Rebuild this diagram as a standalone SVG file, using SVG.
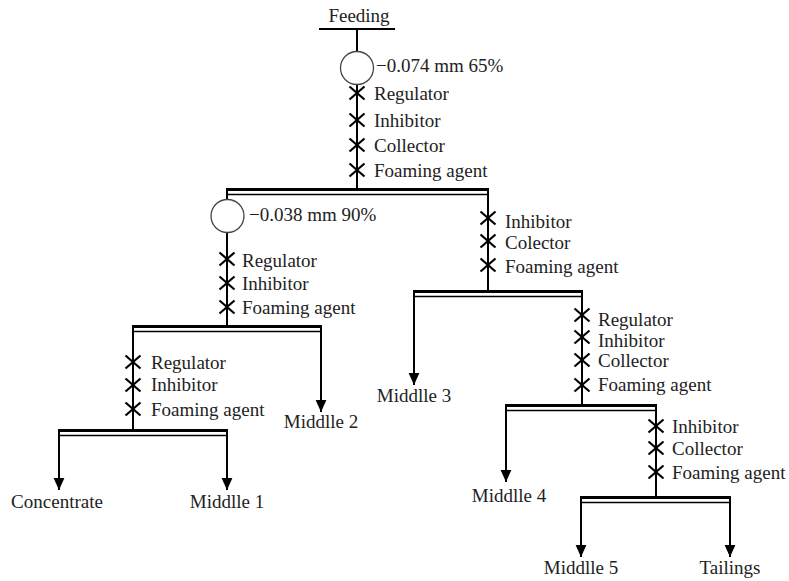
<svg xmlns="http://www.w3.org/2000/svg" width="789" height="581" viewBox="0 0 789 581">
<style>
text{font-family:'Liberation Serif','DejaVu Serif','Times New Roman',serif;font-size:19px;fill:#222}
.m{text-anchor:middle}
.ln{stroke:#000;stroke-width:2;fill:none}
.bar1{stroke:#000;stroke-width:3}
.bar2{stroke:#000;stroke-width:1.5}
.x{stroke:#000;stroke-width:2.2}
.cy{fill:#fff;stroke:#444;stroke-width:1.3}
</style>
<defs>
<marker id="arr" markerUnits="userSpaceOnUse" markerWidth="12" markerHeight="12" viewBox="0 0 10 10" refX="10" refY="5" orient="auto">
<path d="M0,0.5 L10,5 L0,9.5 Z" fill="#000"/>
</marker>
<g id="xm"><line class="x" x1="-7.5" y1="-6.5" x2="7.5" y2="6.5"/><line class="x" x1="-7.5" y1="6.5" x2="7.5" y2="-6.5"/></g>
</defs>
<rect width="789" height="581" fill="#fff"/>

<g id="connectors">
<line class="ln" x1="357" y1="29" x2="357" y2="52"/>
<line class="ln" x1="357" y1="84" x2="357" y2="188"/>
<line class="ln" x1="227" y1="188" x2="227" y2="200"/>
<line class="ln" x1="227" y1="233" x2="227" y2="325"/>
<line class="ln" x1="488" y1="188" x2="488" y2="290"/>
<line class="ln" x1="321" y1="325" x2="321" y2="412" marker-end="url(#arr)"/>
<line class="ln" x1="133" y1="325" x2="133" y2="429"/>
<line class="ln" x1="59" y1="429" x2="59" y2="490" marker-end="url(#arr)"/>
<line class="ln" x1="227" y1="429" x2="227" y2="490" marker-end="url(#arr)"/>
<line class="ln" x1="414" y1="290" x2="414" y2="385" marker-end="url(#arr)"/>
<line class="ln" x1="582" y1="290" x2="582" y2="404"/>
<line class="ln" x1="506" y1="404" x2="506" y2="482" marker-end="url(#arr)"/>
<line class="ln" x1="656" y1="404" x2="656" y2="496"/>
<line class="ln" x1="581" y1="496" x2="581" y2="557" marker-end="url(#arr)"/>
<line class="ln" x1="730" y1="496" x2="730" y2="557" marker-end="url(#arr)"/>
</g>

<g id="feeding">
<line class="ln" x1="319" y1="29" x2="395" y2="29"/>
<text class="m" x="359" y="22">Feeding</text>
</g>

<g id="classifier1">
<circle class="cy" cx="357" cy="68" r="16.5"/>
<text x="376" y="72">−0.074 mm 65%</text>
</g>

<g id="reagents1">
<use href="#xm" x="357" y="93"/><text x="374" y="100">Regulator</text>
<use href="#xm" x="357" y="120"/><text x="374" y="127">Inhibitor</text>
<use href="#xm" x="357" y="145"/><text x="374" y="152">Collector</text>
<use href="#xm" x="357" y="170"/><text x="374" y="177">Foaming agent</text>
</g>

<g id="cell1">
<line class="bar1" x1="226" y1="189.5" x2="489" y2="189.5"/>
<line class="bar2" x1="226" y1="194.5" x2="489" y2="194.5"/>
</g>

<g id="classifier2">
<circle class="cy" cx="227.5" cy="216" r="16.5"/>
<text x="249" y="221">−0.038 mm 90%</text>
</g>

<g id="reagents2">
<use href="#xm" x="227" y="259"/><text x="242" y="267">Regulator</text>
<use href="#xm" x="227" y="283"/><text x="242" y="290">Inhibitor</text>
<use href="#xm" x="227" y="307"/><text x="242" y="314">Foaming agent</text>
</g>

<g id="cell2">
<line class="bar1" x1="132" y1="326.5" x2="322" y2="326.5"/>
<line class="bar2" x1="132" y1="331.5" x2="322" y2="331.5"/>
</g>

<g id="reagents3">
<use href="#xm" x="133" y="362"/><text x="151" y="369">Regulator</text>
<use href="#xm" x="133" y="385"/><text x="151" y="391">Inhibitor</text>
<use href="#xm" x="133" y="409"/><text x="151" y="416">Foaming agent</text>
</g>

<g id="cell3">
<line class="bar1" x1="58" y1="430.5" x2="228" y2="430.5"/>
<line class="bar2" x1="58" y1="435.5" x2="228" y2="435.5"/>
</g>

<g id="concentrate"><text class="m" x="57" y="508">Concentrate</text></g>
<g id="middle1"><text class="m" x="227" y="508">Middlle 1</text></g>
<g id="middle2"><text class="m" x="321" y="428">Middlle 2</text></g>

<g id="reagents4">
<use href="#xm" x="488" y="218"/><text x="505" y="228">Inhibitor</text>
<use href="#xm" x="488" y="241"/><text x="505" y="249">Colector</text>
<use href="#xm" x="488" y="265"/><text x="505" y="273">Foaming agent</text>
</g>

<g id="cell4">
<line class="bar1" x1="413" y1="291.5" x2="583" y2="291.5"/>
<line class="bar2" x1="413" y1="296.5" x2="583" y2="296.5"/>
</g>

<g id="middle3"><text class="m" x="414" y="402">Middlle 3</text></g>

<g id="reagents5">
<use href="#xm" x="582" y="315"/><text x="598" y="326">Regulator</text>
<use href="#xm" x="582" y="337"/><text x="598" y="347">Inhibitor</text>
<use href="#xm" x="582" y="360"/><text x="598" y="367">Collector</text>
<use href="#xm" x="582" y="385"/><text x="598" y="391">Foaming agent</text>
</g>

<g id="cell5">
<line class="bar1" x1="505" y1="405.5" x2="657" y2="405.5"/>
<line class="bar2" x1="505" y1="410.5" x2="657" y2="410.5"/>
</g>

<g id="middle4"><text class="m" x="509" y="502">Middlle 4</text></g>

<g id="reagents6">
<use href="#xm" x="656" y="426"/><text x="672" y="433">Inhibitor</text>
<use href="#xm" x="656" y="448"/><text x="672" y="455">Collector</text>
<use href="#xm" x="656" y="472"/><text x="672" y="479">Foaming agent</text>
</g>

<g id="cell6">
<line class="bar1" x1="580" y1="497.5" x2="731" y2="497.5"/>
<line class="bar2" x1="580" y1="502.5" x2="731" y2="502.5"/>
</g>

<g id="middle5"><text class="m" x="581" y="574">Middlle 5</text></g>
<g id="tailings"><text class="m" x="730" y="574">Tailings</text></g>
</svg>
